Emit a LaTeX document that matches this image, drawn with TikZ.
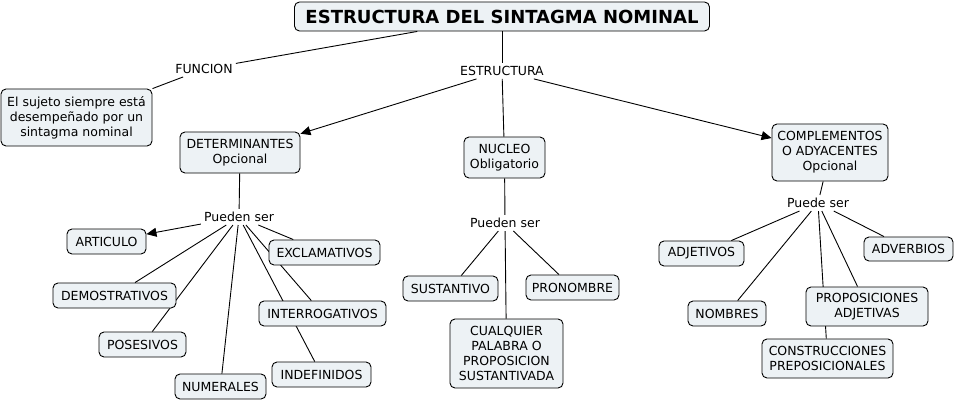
\documentclass[tikz,border=0pt]{standalone}
\usepackage{fontspec}
\setmainfont{DejaVu Sans}
\usetikzlibrary{arrows.meta}
\pgfdeclarelayer{bg}
\pgfsetlayers{bg,main}
\definecolor{boxfill}{HTML}{EDF2F5}
\tikzset{
  box/.style={draw=black, fill=boxfill, rounded corners=5pt, align=center,
    font=\fontsize{12.5}{15}\selectfont, inner sep=0pt, line width=0.9pt},
  lbl/.style={font=\fontsize{12.5}{15}\selectfont, inner sep=3pt},
  conn/.style={line width=0.9pt, draw=black},
  arr/.style={conn, -{Triangle[length=10pt,width=9pt]}},
}
\begin{document}
\begin{tikzpicture}[x=1pt,y=-1pt]
\useasboundingbox (0,0) rectangle (955,401);
% concept boxes
\node[box, minimum width=415, minimum height=29, font=\fontsize{18}{21}\bfseries] (title) at (502,16.5) {ESTRUCTURA DEL SINTAGMA NOMINAL};
\node[box, minimum width=151, minimum height=57] (sujeto) at (76.5,117.5) {El sujeto siempre está\\desempeñado por un\\sintagma nominal};
\node[box, minimum width=120, minimum height=41] (det) at (240,152.5) {DETERMINANTES\\Opcional};
\node[box, minimum width=81, minimum height=41] (nuc) at (504.5,157.5) {NUCLEO\\Obligatorio};
\node[box, minimum width=116, minimum height=57] (comp) at (830,152.5) {COMPLEMENTOS\\O ADYACENTES\\Opcional};
\node[box, minimum width=79, minimum height=25] (art) at (106.5,241.5) {ARTICULO};
\node[box, minimum width=111, minimum height=25] (excl) at (324.5,252.5) {EXCLAMATIVOS};
\node[box, minimum width=123, minimum height=25] (demo) at (114.5,295.5) {DEMOSTRATIVOS};
\node[box, minimum width=127, minimum height=25] (inter) at (322.5,313.5) {INTERROGATIVOS};
\node[box, minimum width=87, minimum height=25] (pos) at (142.5,344.5) {POSESIVOS};
\node[box, minimum width=99, minimum height=25] (indef) at (321.5,374.5) {INDEFINIDOS};
\node[box, minimum width=91, minimum height=25] (num) at (220.5,386.5) {NUMERALES};
\node[box, minimum width=95, minimum height=25] (sust) at (450.5,288.5) {SUSTANTIVO};
\node[box, minimum width=93, minimum height=25] (pron) at (572.5,287.5) {PRONOMBRE};
\node[box, minimum width=113, minimum height=69] (cual) at (506.5,353.5) {CUALQUIER\\PALABRA O\\PROPOSICION\\SUSTANTIVADA};
\node[box, minimum width=85, minimum height=25] (adj) at (701.5,253.5) {ADJETIVOS};
\node[box, minimum width=89, minimum height=24] (adv) at (908.5,249) {ADVERBIOS};
\node[box, minimum width=78, minimum height=25] (nom) at (727,313.5) {NOMBRES};
\node[box, minimum width=122, minimum height=39] (propadj) at (867,306.5) {PROPOSICIONES\\ADJETIVAS};
\node[box, minimum width=131, minimum height=39] (cons) at (827.5,358.5) {CONSTRUCCIONES\\PREPOSICIONALES};
% linking phrases
\node[lbl] (funcion) at (204,69) {FUNCION};
\node[lbl] (estr) at (502,71) {ESTRUCTURA};
\node[lbl] (pl) at (239,217) {Pueden ser};
\node[lbl] (pm) at (505,223) {Pueden ser};
\node[lbl] (pr) at (818,203) {Puede ser};
% connectors
\begin{pgfonlayer}{bg}
\draw[conn] (title) -- (funcion);
\draw[conn] (funcion) -- (sujeto);
\draw[conn] (title) -- (estr);
\draw[arr] (estr) -- (det);
\draw[conn] (estr) -- (nuc);
\draw[arr] (estr) -- (comp);
\draw[conn] (det) -- (pl);
\draw[arr] (pl) -- (art);
\draw[conn] (pl) -- (excl);
\draw[conn] (pl) -- (demo);
\draw[conn] (pl) -- (inter);
\draw[conn] (pl) -- (pos);
\draw[conn] (pl) -- (indef);
\draw[conn] (pl) -- (num);
\draw[conn] (nuc) -- (pm);
\draw[conn] (pm) -- (sust);
\draw[conn] (pm) -- (pron);
\draw[conn] (pm) -- (cual);
\draw[conn] (comp) -- (pr);
\draw[conn] (pr) -- (adj);
\draw[conn] (pr) -- (adv);
\draw[conn] (pr) -- (nom);
\draw[conn] (pr) -- (propadj);
\draw[conn] (pr) -- (cons);
\end{pgfonlayer}
\end{tikzpicture}
\end{document}
